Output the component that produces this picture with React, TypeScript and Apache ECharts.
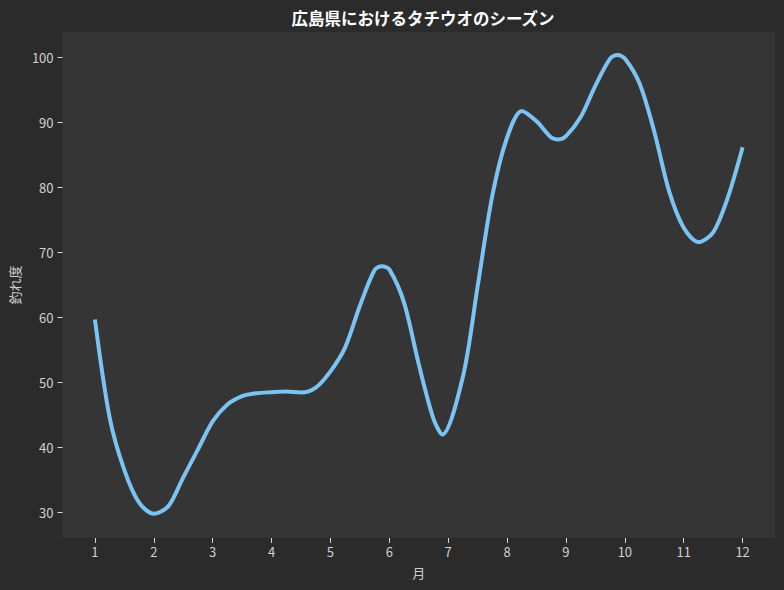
import React, { useEffect, useRef } from "react";
import * as echarts from "echarts";

const months = [
  1, 1.25, 1.5, 1.75, 2, 2.25, 2.5, 2.75, 3, 3.25, 3.5, 3.75, 4, 4.25, 4.5, 4.75,
  5, 5.25, 5.5, 5.75, 5.875, 6, 6.25, 6.5, 6.75, 6.9, 7.25, 7.5, 7.75, 8,
  8.25, 8.5, 8.75, 8.875, 9, 9.25, 9.5, 9.75, 9.875, 10, 10.25, 10.5, 10.75, 11,
  11.25, 11.5, 11.75, 12,
];
const catchScore = [
  59.7, 44.6, 36.5, 31.5, 29.8, 31.0, 35.4, 39.7, 44.0, 46.6, 47.9, 48.35, 48.5, 48.6, 48.45, 49.2,
  51.7, 55.4, 61.8, 67.3, 67.9, 67.4, 62.3, 52.8, 44.4, 42.0, 50.9, 64.8, 78.8, 87.7,
  91.8, 90.2, 87.7, 87.4, 87.9, 90.85, 95.7, 99.85, 100.4, 99.85, 96.0, 88.6, 79.5, 73.8,
  71.6, 73.1, 78.5, 86.2,
];
const xTicks = [1, 2, 3, 4, 5, 6, 7, 8, 9, 10, 11, 12];
const yTicks = [30, 40, 50, 60, 70, 80, 90, 100];

const FONT = "'Noto Sans CJK JP', 'Noto Sans', sans-serif";

export default function App() {
  const ref = useRef<HTMLDivElement>(null);
  useEffect(() => {
    if (!ref.current) return;
    const chart = echarts.init(ref.current, null, { renderer: "svg" });
    chart.setOption({
      animation: false,
      backgroundColor: "#2b2b2b",
      title: {
        text: "広島県におけるタチウオのシーズン",
        left: 418,
        top: 5,
        textAlign: "center",
        textStyle: { color: "#ffffff", fontSize: 16.5, fontWeight: "bold", fontFamily: FONT },
      },
      grid: {
        left: 61,
        right: 9,
        top: 32,
        bottom: 52,
        show: true,
        backgroundColor: "#353535",
        borderWidth: 0,
      },
      xAxis: {
        type: "value",
        min: 0.45,
        max: 12.55,
        name: "月",
        nameLocation: "middle",
        nameGap: 28,
        nameTextStyle: { color: "#d0d0d0", fontSize: 13, fontFamily: FONT },
        axisLine: { show: false },
        splitLine: { show: false },
        axisTick: {
          show: true,
          length: 5,
          customValues: xTicks,
          lineStyle: { color: "#d8d8d8", width: 1 },
        },
        axisLabel: {
          customValues: xTicks,
          color: "#d0d0d0",
          fontSize: 13,
          fontFamily: FONT,
          margin: 7,
        },
      },
      yAxis: {
        type: "value",
        min: 26.06,
        max: 103.94,
        name: "釣れ度",
        nameLocation: "middle",
        nameGap: 38,
        nameTextStyle: { color: "#d0d0d0", fontSize: 13, fontFamily: FONT },
        axisLine: { show: false },
        splitLine: { show: false },
        axisTick: {
          show: true,
          length: 5,
          customValues: yTicks,
          lineStyle: { color: "#d8d8d8", width: 1 },
        },
        axisLabel: {
          customValues: yTicks,
          color: "#d0d0d0",
          fontSize: 13,
          fontFamily: FONT,
          margin: 9,
        },
      },
      series: [
        {
          type: "line",
          data: months.map((m, i) => [m, catchScore[i]]),
          smooth: 0.3,
          showSymbol: false,
          lineStyle: { color: "#7ac3f2", width: 4, cap: "butt" },
          itemStyle: { color: "#7ac3f2" },
        },
      ],
    });
    return () => chart.dispose();
  }, []);
  return (
    <div
      ref={ref}
      style={{ position: "fixed", left: 0, top: 0, width: 784, height: 590 }}
    />
  );
}
